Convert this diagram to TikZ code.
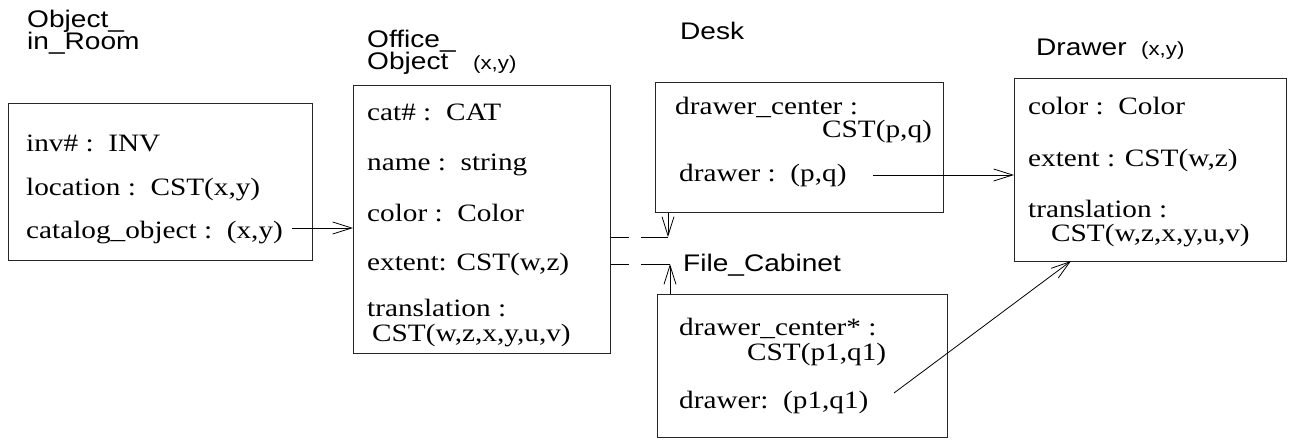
\documentclass[tikz,border=0pt]{standalone}
\usepackage{fontspec}
\setmainfont{Liberation Serif}[FakeStretch=1.17]
\setsansfont{Liberation Sans}[FakeStretch=1.17]
\usetikzlibrary{arrows.meta}
\begin{document}
\begin{tikzpicture}[x=1pt,y=-1pt,
  box/.style={draw=black!85,line width=1pt,anchor=north west,inner sep=0pt},
  txt/.style={anchor=base west,inner sep=0pt,font=\fontsize{25}{25}\selectfont},
  lbl/.style={anchor=base west,inner sep=0pt,font=\sffamily\fontsize{24}{24}\selectfont},
  sml/.style={anchor=base west,inner sep=0pt,font=\sffamily\fontsize{19}{19}\selectfont},
  arr/.style={line width=0.8pt,-{Straight Barb[length=19pt,width=12pt,line width=0.8pt]}},
  dsh/.style={line width=0.8pt,dash pattern=on 18pt off 12pt on 40pt}]
\useasboundingbox (0,0) rectangle (1293,441);
% Object_in_Room
\node[lbl] (l1a) at (27,28) {Object\_};
\node[lbl] (l1b) at (27,50) {in\_Room};
\node[box,minimum width=304pt,minimum height=157pt] (oir) at (8,103) {};
\node[txt] (oir1) at (26,152) {inv\# :~~INV};
\node[txt] (oir2) at (26,195) {location :~~CST(x,y)};
\node[txt] (oir3) at (26,238) {catalog\_object :~~(x,y)};
% Office_Object
\node[lbl] (l2a) at (367,48) {Office\_};
\node[lbl] (l2b) at (367,70) {Object};
\node[sml] (l2c) at (473,70) {(x,y)};
\node[box,minimum width=257pt,minimum height=268pt] (oo) at (353,85) {};
\node[txt] (oo1) at (367,121) {cat\# :~~CAT};
\node[txt] (oo2) at (367,171) {name :~~string};
\node[txt] (oo3) at (367,221) {color :~~Color};
\node[txt] (oo4) at (367,270) {extent: CST(w,z)};
\node[txt] (oo5) at (367,316) {translation :};
\node[txt] (oo6) at (372,341) {CST(w,z,x,y,u,v)};
% Desk
\node[lbl] (l3) at (680,40) {Desk};
\node[box,minimum width=288pt,minimum height=130pt] (desk) at (655,82) {};
\node[txt] (d1) at (675,115) {drawer\_center :};
\node[txt] (d2) at (822,138) {CST(p,q)};
\node[txt] (d3) at (679,181) {drawer :~~(p,q)};
% File_Cabinet
\node[lbl] (l4) at (683,271) {File\_Cabinet};
\node[box,minimum width=290pt,minimum height=143pt] (fc) at (657,294) {};
\node[txt] (f1) at (679,335) {drawer\_center* :};
\node[txt] (f2) at (747,360) {CST(p1,q1)};
\node[txt] (f3) at (679,408) {drawer:~~(p1,q1)};
% Drawer
\node[lbl] (l5a) at (1036,56) {Drawer};
\node[sml] (l5b) at (1141,56) {(x,y)};
\node[box,minimum width=272pt,minimum height=183pt] (dr) at (1014,78) {};
\node[txt] (r1) at (1028,115) {color :~~Color};
\node[txt] (r2) at (1028,167) {extent : CST(w,z)};
\node[txt] (r3) at (1028,217) {translation :};
\node[txt] (r4) at (1051,241) {CST(w,z,x,y,u,v)};
% connectors
\coordinate (c1) at (292,228);
\draw[arr] (c1) -- (oo.west |- c1);
\coordinate (k1) at (668,237);
\draw[dsh] (oo.east |- k1) -- (k1);
\draw[arr] (desk.south -| k1) -- (k1);
\coordinate (k2) at (670,264);
\draw[dsh] (oo.east |- k2) -- (k2);
\draw[arr] (fc.north -| k2) -- (k2);
\coordinate (c2) at (873,175);
\draw[arr] (c2) -- (dr.west |- c2);
\coordinate (c3) at (894,393);
\coordinate (c4) at (1071,261);
\draw[arr] (c3) -- (c4);
\end{tikzpicture}
\end{document}
